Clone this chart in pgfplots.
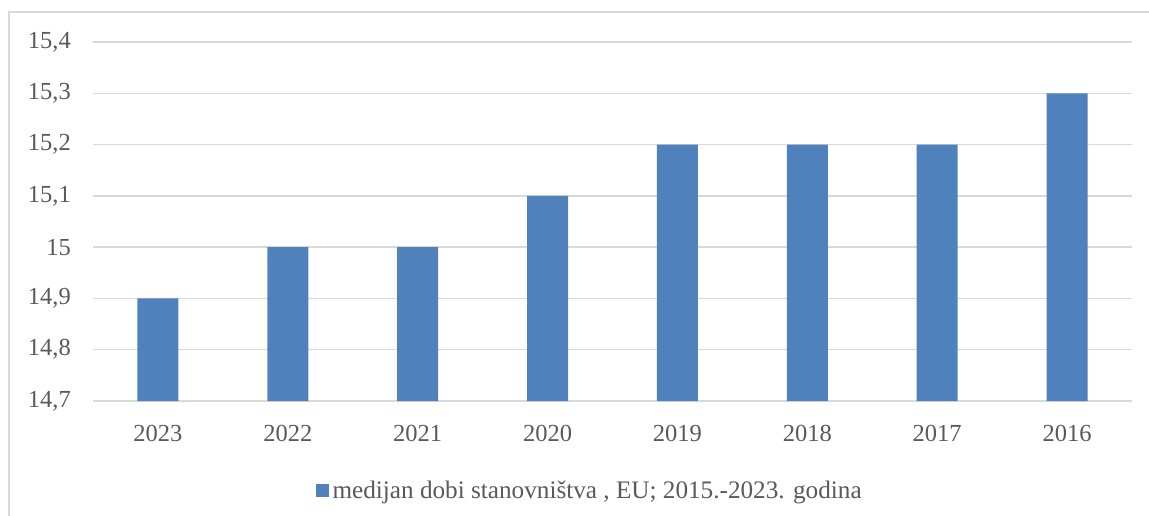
\documentclass[border=0pt]{standalone}
\usepackage{fontspec}
\setmainfont{Liberation Serif}
\usepackage{pgfplots}
\pgfplotsset{compat=1.18}
\definecolor{barblue}{HTML}{4F81BD}
\definecolor{gridgray}{HTML}{D9D9D9}
\definecolor{txt}{HTML}{595959}
\begin{document}
\begin{tikzpicture}
\useasboundingbox (0pt,0pt) rectangle (1149pt,515pt);
\draw[gridgray, line width=1.5pt] (9pt,-10pt) -- (9pt,503pt) -- (1160pt,503pt);
\begin{axis}[
  at={(93pt,114pt)}, anchor=south west,
  scale only axis, width=1039pt, height=359pt,
  xmin=-0.5, xmax=7.5, ymin=14.7, ymax=15.4,
  ytick={14.7,14.8,14.9,15,15.1,15.2,15.3,15.4},
  xtick={0,1,2,3,4,5,6,7},
  xticklabels={2023,2022,2021,2020,2019,2018,2017,2016},
  axis line style={draw=none},
  major tick length=0pt,
  ymajorgrids, grid style={gridgray, line width=1.5pt},
  /pgf/number format/assume math mode=true,
  /pgf/number format/.cd, fixed, precision=1, use comma, /pgfplots/.cd,
  ticklabel style={font=\fontsize{24.5}{28}\selectfont, text=txt, inner sep=0pt},
  xticklabel style={anchor=center, yshift=-32pt},
  yticklabel style={anchor=east, xshift=-22pt},
  ybar, bar width=41pt,
  legend style={at={(0.478,-0.25)}, anchor=center, draw=none, fill=none,
    font=\fontsize{25.2}{28}\selectfont, text=txt},
  legend image code/.code={\fill[#1] (0pt,-6pt) rectangle (13pt,7pt); \path (15pt,0pt);},
]
\addplot[fill=barblue, draw=none] coordinates {(0,14.9) (1,15.0) (2,15.0) (3,15.1) (4,15.2) (5,15.2) (6,15.2) (7,15.3)};
\addlegendentry{medijan dobi stanovništva , EU; 2015.-2023. godina}
\end{axis}
\end{tikzpicture}
\end{document}
